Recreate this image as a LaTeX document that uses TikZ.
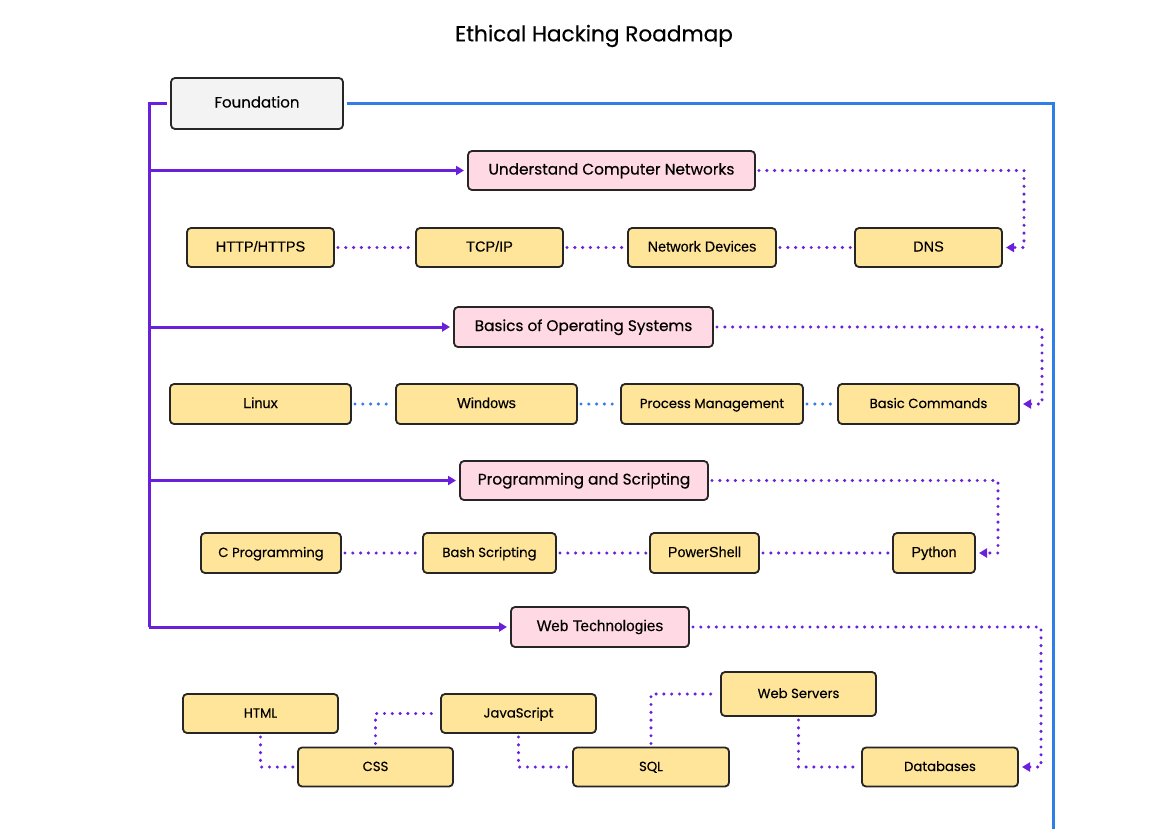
\documentclass[tikz,border=0pt]{standalone}
\usepackage{fontspec}
\setmainfont{Poppins}[FakeBold=0.35]
\newfontfamily\plainsans{Liberation Sans}[FakeBold=0.25]
\usetikzlibrary{arrows.meta}
\definecolor{trunk}{HTML}{6A1FDB}
\definecolor{rail}{HTML}{2F7EE8}
\definecolor{topicfill}{HTML}{FFD9E3}
\definecolor{itemfill}{HTML}{FFE599}
\definecolor{rootfill}{HTML}{F3F3F3}
\tikzset{
  base/.style={draw=black!85, line width=1.8pt, rounded corners=4pt,
    minimum height=39pt, inner sep=0pt, outer sep=4pt, anchor=center,
    text height=10.5pt, text depth=2.5pt},
  rootbox/.style={base, fill=rootfill, font=\fontsize{15}{18}\selectfont},
  topicbox/.style={base, fill=topicfill, font=\fontsize{15.3}{18}\selectfont},
  itembox/.style={base, fill=itemfill, font=\fontsize{13.2}{16}\selectfont},
  arialtext/.style={font=\plainsans\fontsize{14.5}{16}\selectfont},
  solidlink/.style={draw=trunk, line width=3pt},
  branch/.style={solidlink, -{Triangle[length=8pt,width=9pt]}},
  dotlink/.style={draw=trunk, line width=3.4pt, line cap=round,
    dash pattern=on 0pt off 7.8pt},
  bluedots/.style={dotlink, draw=rail},
  dotarrow/.style={dotlink, -{Triangle[length=8pt,width=9pt]}},
}
\begin{document}
\begin{tikzpicture}[x=1pt,y=-1pt]
\useasboundingbox (0,0) rectangle (1172,828);
\fill[white] (0,0) rectangle (1172,828);

\node[font=\fontsize{21.6}{24}\selectfont] (title) at (594,36) {Ethical Hacking Roadmap};

% root and topics
\node[rootbox, minimum width=172pt, minimum height=51pt] (found) at (257,103.5) {Foundation};
\node[topicbox, minimum width=287pt] (net) at (611.5,170.5) {Understand Computer Networks};
\node[topicbox, minimum width=259pt, minimum height=40pt] (os) at (583.5,327) {Basics of Operating Systems};
\node[topicbox, minimum width=248pt] (prog) at (584,480.5) {Programming and Scripting};
\node[topicbox, minimum width=178pt, minimum height=40pt, font=\plainsans\fontsize{15.5}{18}\selectfont] (web) at (600,627) {Web Technologies};

% networking items
\node[itembox, arialtext, minimum width=147pt] (http) at (260.5,247.5) {HTTP/HTTPS};
\node[itembox, arialtext, minimum width=147pt] (tcp) at (489.5,247.5) {TCP/IP};
\node[itembox, arialtext, minimum width=148pt] (dev) at (702,247.5) {Network Devices};
\node[itembox, arialtext, minimum width=147pt] (dns) at (928.5,247.5) {DNS};

% operating system items
\node[itembox, arialtext, minimum width=181pt, minimum height=40pt] (linux) at (260.5,404) {Linux};
\node[itembox, arialtext, minimum width=181pt, minimum height=40pt] (win) at (486.5,404) {Windows};
\node[itembox, minimum width=182pt, minimum height=40pt] (proc) at (712,404) {Process Management};
\node[itembox, minimum width=181pt, minimum height=40pt] (cmds) at (928.5,404) {Basic Commands};

% programming items
\node[itembox, minimum width=140pt, minimum height=40pt] (cprog) at (271,553) {C Programming};
\node[itembox, minimum width=133pt, minimum height=40pt] (bash) at (489.5,553) {Bash Scripting};
\node[itembox, arialtext, minimum width=109pt, minimum height=40pt] (psh) at (704.5,553) {PowerShell};
\node[itembox, arialtext, minimum width=82pt, minimum height=40pt] (py) at (934,553) {Python};

% web items
\node[itembox, minimum width=155pt] (html) at (260.5,713.5) {HTML};
\node[itembox, minimum width=155pt] (js) at (518.5,713.5) {JavaScript};
\node[itembox, minimum width=155pt, minimum height=44pt] (wsrv) at (798.5,694) {Web Servers};
\node[itembox, minimum width=155pt] (css) at (375.5,767) {CSS};
\node[itembox, minimum width=156pt] (sql) at (651,767) {SQL};
\node[itembox, minimum width=156pt] (db) at (940,767) {Databases};

% trunk with branches to each topic
\coordinate (trunktop) at (149,103.5);
\coordinate (trunkbot) at (149,627);
\draw[solidlink] (found.west) -- (trunktop) -- (trunkbot);
\draw[branch] (trunktop |- net.west) -- (net.west);
\draw[branch] (trunktop |- os.west) -- (os.west);
\draw[branch] (trunktop |- prog.west) -- (prog.west);
\draw[branch] (trunktop |- web.west) -- (web.west);

% blue rail along the right side
\coordinate (railtop) at (1053,103.5);
\coordinate (railbot) at (1053,830);
\draw[draw=rail, line width=3pt] (found.east) -- (railtop) -- (railbot);

% topic to first item
\draw[dotarrow] (net.east) -| (1024,247.5) -- (dns.east);
\draw[dotarrow] (os.east) -| (1042,404) -- (cmds.east);
\draw[dotarrow] (prog.east) -| (998,553) -- (py.east);
\draw[dotarrow] (web.east) -| (1041,767) -- (db.east);

% item chains
\draw[dotlink] (http.east) -- (tcp.west);
\draw[dotlink] (tcp.east) -- (dev.west);
\draw[dotlink] (dev.east) -- (dns.west);

\draw[bluedots] (linux.east) -- (win.west);
\draw[bluedots] (win.east) -- (proc.west);
\draw[bluedots] (proc.east) -- (cmds.west);

\draw[dotlink] (cprog.east) -- (bash.west);
\draw[dotlink] (bash.east) -- (psh.west);
\draw[dotlink] (psh.east) -- (py.west);

\draw[dotlink] (html.south) |- (css.west);
\draw[dotlink] (css.north) |- (js.west);
\draw[dotlink] (js.south) |- (sql.west);
\draw[dotlink] (sql.north) |- (wsrv.west);
\draw[dotlink] (wsrv.south) |- (db.west);
\end{tikzpicture}
\end{document}
